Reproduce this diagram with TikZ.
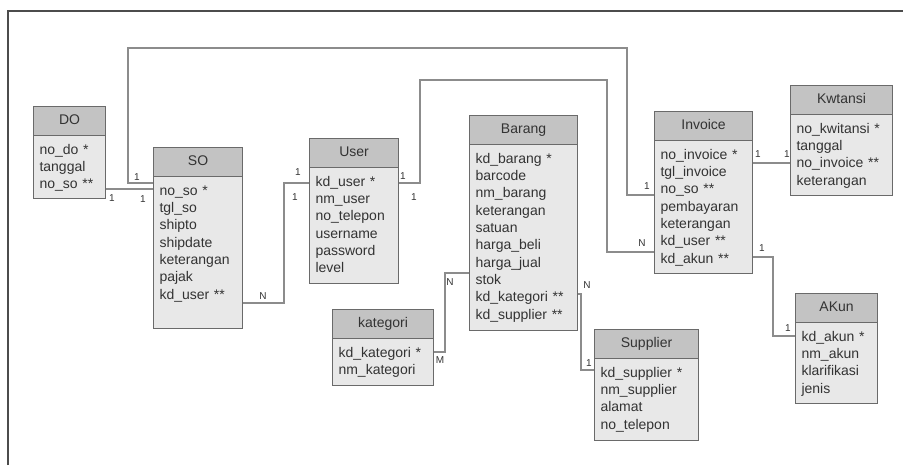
\documentclass[tikz,border=0pt]{standalone}
\usepackage{fontspec}
\setmainfont{Liberation Sans}

\definecolor{hdrgray}{HTML}{C3C3C3}
\definecolor{bodygray}{HTML}{E8E8E8}
\definecolor{edgegray}{HTML}{6A6A6A}
\definecolor{linkgray}{HTML}{8C8C8C}
\definecolor{txtgray}{HTML}{333333}

\begin{document}
\begin{tikzpicture}[
        x=0.75pt, y=-0.75pt,
        head/.style={draw=edgegray, fill=hdrgray, line width=0.8pt, anchor=north west,
            minimum width=#1*0.75pt, minimum height=29*0.75pt, inner sep=0pt,
            text height=7.5pt, text depth=2pt, text=txtgray, font=\fontsize{10.5}{13}\selectfont},
        body/.style n args={2}{draw=edgegray, fill=bodygray, line width=0.8pt, anchor=north west,
            text width=#1*0.75pt-9pt, inner xsep=4.5pt, inner ysep=3pt,
            text height=11pt, text depth=#2*0.75pt-17pt, align=left,
            text=txtgray, font=\fontsize{10.5}{13}\selectfont},
        rel/.style={draw=linkgray, line width=1pt},
        card/.style={inner sep=0pt, text=txtgray, font=\fontsize{7.5}{9}\selectfont}
        ]

        \useasboundingbox (0,0) rectangle (903,465);
        \draw[draw=black!70, line width=1.5pt] (8,465) -- (8,11) -- (903,11);

        % Entities
        \node[head=72] (DO-h) at (33,106) {DO};
        \node[body={72}{63}] (DO) at (33,135) {no\_do *\\tanggal\\no\_so **};

        \node[head=89] (SO-h) at (153,147) {SO};
        \node[body={89}{152}] (SO) at (153,176) {no\_so *\\tgl\_so\\shipto\\shipdate\\keterangan\\pajak\\kd\_user **};

        \node[head=89] (User-h) at (309,138) {User};
        \node[body={89}{116}] (User) at (309,167) {kd\_user *\\nm\_user\\no\_telepon\\username\\password\\level};

        \node[head=108] (Barang-h) at (469,115) {Barang};
        \node[body={108}{186}] (Barang) at (469,144) {kd\_barang *\\barcode\\nm\_barang\\keterangan\\satuan\\harga\_beli\\harga\_jual\\stok\\kd\_kategori **\\kd\_supplier **};

        \node[head=101] (kategori-h) at (332,309) {kategori};
        \node[body={101}{47}] (kategori) at (332,338) {kd\_kategori *\\nm\_kategori};

        \node[head=104] (Supplier-h) at (594,329) {Supplier};
        \node[body={104}{82}] (Supplier) at (594,358) {kd\_supplier *\\nm\_supplier\\alamat\\no\_telepon};

        \node[head=98] (Invoice-h) at (654,111) {Invoice};
        \node[body={98}{133}] (Invoice) at (654,140) {no\_invoice *\\tgl\_invoice\\no\_so **\\pembayaran\\keterangan\\kd\_user **\\kd\_akun **};

        \node[head=102] (Kwtansi-h) at (790,85) {Kwtansi};
        \node[body={102}{81}] (Kwtansi) at (790,114) {no\_kwitansi *\\tanggal\\no\_invoice **\\keterangan};

        \node[head=82] (AKun-h) at (795,293) {AKun};
        \node[body={82}{81}] (AKun) at (795,322) {kd\_akun *\\nm\_akun\\klarifikasi\\jenis};

        % Bends
        \coordinate (soTop) at (128,48);
        \coordinate (invTop) at (627,48);
        \coordinate (userTop) at (420,80);
        \coordinate (invMid) at (607,80);
        \coordinate (userBend) at (284,183);
        \coordinate (katBend) at (445,352);
        \coordinate (supBend) at (581,370);
        \coordinate (akunBend) at (773,336);

        % Relations
        \draw[rel] (DO.east |- 0,189) -- (SO.west |- 0,189);
        \draw[rel] (SO.west |- 0,183) -| (soTop) -- (invTop) |- (Invoice.west |- 0,195);
        \draw[rel] (SO.east |- 0,303) -| (userBend) -- (User.west |- 0,183);
        \draw[rel] (User.east |- 0,183) -| (userTop) -- (invMid) |- (Invoice.west |- 0,252);
        \draw[rel] (Barang.west |- 0,273) -| (katBend) -- (kategori.east |- 0,352);
        \draw[rel] (Barang.east |- 0,294) -| (supBend) -- (Supplier.west |- 0,370);
        \draw[rel] (Invoice.east |- 0,163) -- (Kwtansi.west |- 0,163);
        \draw[rel] (Invoice.east |- 0,257) -| (akunBend) -- (AKun.west |- 0,336);

        % Cardinalities
        \node[card] (c-do) at (112,198) {1};
        \node[card] (c-so1) at (143,199) {1};
        \node[card] (c-so2) at (137,177) {1};
        \node[card] (c-inv1) at (647,186) {1};
        \node[card] (c-so3) at (263,296) {N};
        \node[card] (c-us1) at (298,172) {1};
        \node[card] (c-us2) at (295,197) {1};
        \node[card] (c-us3) at (403,176) {1};
        \node[card] (c-us4) at (414,197) {1};
        \node[card] (c-inv2) at (642,243) {N};
        \node[card] (c-br1) at (450,282) {N};
        \node[card] (c-kat) at (440,360) {M};
        \node[card] (c-br2) at (587,285) {N};
        \node[card] (c-sup) at (589,363) {1};
        \node[card] (c-inv3) at (758,154) {1};
        \node[card] (c-kw) at (787,154) {1};
        \node[card] (c-inv4) at (762,248) {1};
        \node[card] (c-ak) at (788,328) {1};

    \end{tikzpicture}
\end{document}
